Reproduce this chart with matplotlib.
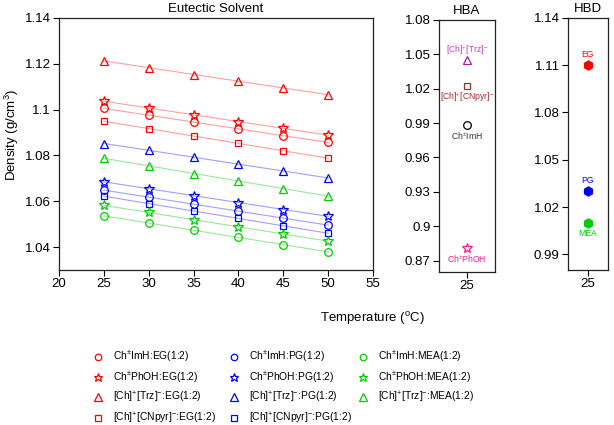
import numpy as np
import matplotlib
matplotlib.use("Agg")
import matplotlib.pyplot as plt

plt.rcParams['font.family'] = ['Liberation Sans', 'DejaVu Sans']
plt.rcParams['mathtext.fontset'] = 'custom'
plt.rcParams['mathtext.rm'] = 'Liberation Sans'
plt.rcParams['mathtext.it'] = 'Liberation Sans'
plt.rcParams['mathtext.default'] = 'regular'

# ---------------- data ----------------
temps = [25, 30, 35, 40, 45, 50]

imh_eg = [1.1006, 1.0975, 1.0945, 1.0916, 1.0886, 1.0857]
phoh_eg = [1.1038, 1.1006, 1.0977, 1.0948, 1.0918, 1.0889]
trz_eg = [1.1213, 1.1183, 1.1153, 1.1124, 1.1095, 1.1065]
cnpyr_eg = [1.0949, 1.0917, 1.0885, 1.0853, 1.0820, 1.0788]

imh_pg = [1.0648, 1.0619, 1.0587, 1.0557, 1.0526, 1.0496]
phoh_pg = [1.0685, 1.0655, 1.0625, 1.0593, 1.0564, 1.0535]
trz_pg = [1.0852, 1.0823, 1.0792, 1.0762, 1.0733, 1.0701]
cnpyr_pg = [1.0622, 1.0590, 1.0558, 1.0525, 1.0493, 1.0460]

imh_mea = [1.0536, 1.0506, 1.0473, 1.0442, 1.0410, 1.0380]
phoh_mea = [1.0583, 1.0551, 1.0519, 1.0488, 1.0458, 1.0426]
trz_mea = [1.0789, 1.0754, 1.0721, 1.0687, 1.0655, 1.0624]

series_labels = [
    "Ch$^{\\pm}$ImH:EG(1:2)", "Ch$^{\\pm}$PhOH:EG(1:2)",
    "[Ch]$^{+}$[Trz]$^{-}$:EG(1:2)", "[Ch]$^{+}$[CNpyr]$^{-}$:EG(1:2)",
    "Ch$^{\\pm}$ImH:PG(1:2)", "Ch$^{\\pm}$PhOH:PG(1:2)",
    "[Ch]$^{+}$[Trz]$^{-}$:PG(1:2)", "[Ch]$^{+}$[CNpyr]$^{-}$:PG(1:2)",
    "Ch$^{\\pm}$ImH:MEA(1:2)", "Ch$^{\\pm}$PhOH:MEA(1:2)",
    "[Ch]$^{+}$[Trz]$^{-}$:MEA(1:2)",
]
series_values = [imh_eg, phoh_eg, trz_eg, cnpyr_eg,
                 imh_pg, phoh_pg, trz_pg, cnpyr_pg,
                 imh_mea, phoh_mea, trz_mea]

# HBA panel (25 C)
hba_names = ["[Ch]$^{+}$[Trz]$^{-}$", "[Ch]$^{+}$[CNpyr]$^{-}$", "Ch$^{\\pm}$ImH", "Ch$^{\\pm}$PhOH"]
hba_values = [1.045, 1.022, 0.988, 0.881]

# HBD panel (25 C)
hbd_names = ["EG", "PG", "MEA"]
hbd_values = [1.110, 1.030, 1.010]

# ---------------- styles ----------------
mk_colors = ['red'] * 4 + ['blue'] * 4 + ['#00cc00'] * 3
ln_colors = ['#ffa0a0'] * 4 + ['#a0a0ff'] * 4 + ['#98e898'] * 3
markers = ['o', '*', '^', 's'] * 2 + ['o', '*', '^']
msizes = {'o': 5.5, '*': 7.5, '^': 6, 's': 5}

fig = plt.figure(figsize=(6.14, 4.25), dpi=100)
W, H = 614.0, 425.0

def ax_at(l, t, r, b):
    return fig.add_axes([l / W, 1 - b / H, (r - l) / W, (b - t) / H])

ax = ax_at(59, 18, 373, 270)
ax_a = ax_at(439, 20, 495, 272)
ax_d = ax_at(568, 18, 608, 270)

tfs = 9.5
t = np.array(temps, dtype=float)
handles = []
for vals, lab, mc, lc, m in zip(series_values, series_labels, mk_colors, ln_colors, markers):
    v = np.array(vals)
    p = np.polyfit(t, v, 1)
    ax.plot(t, np.polyval(p, t), color=lc, lw=0.8, zorder=1)
    h, = ax.plot(t, v, linestyle='none', marker=m, ms=msizes[m], mfc='none',
                 mec=mc, mew=0.9, label=lab, zorder=2)
    handles.append(h)

ax.set_xlim(20, 55)
ax.set_ylim(1.03, 1.14)
ax.set_xticks(np.arange(20, 56, 5))
ax.set_yticks([1.04, 1.06, 1.08, 1.10, 1.12, 1.14])
ax.set_yticklabels(["1.04", "1.06", "1.08", "1.1", "1.12", "1.14"])
ax.set_title("Eutectic Solvent", fontsize=tfs, pad=4)

# HBA panel
hba_markers = ['^', 's', 'o', '*']
hba_mcolors = ['#a0209f', '#a52a2a', 'black', '#ff1493']
hba_tcolors = ['#c040c0', '#a52a2a', '#333333', '#ff1493']
hba_offsets = [(0, 7), (0, -8), (0, -8), (0, -8)]
for name, val, m, mc, tc, off in zip(hba_names, hba_values, hba_markers, hba_mcolors, hba_tcolors, hba_offsets):
    ax_a.plot([25], [val], linestyle='none', marker=m, ms=msizes[m], mfc='none', mec=mc, mew=0.9)
    ax_a.annotate(name, (25, val), xytext=off, textcoords='offset points',
                  ha='center', va='center', fontsize=6.2, color=tc)
ax_a.set_xlim(23.6, 26.4)
ax_a.set_ylim(0.86, 1.08)
ax_a.set_xticks([25])
ax_a.set_yticks([0.87, 0.90, 0.93, 0.96, 0.99, 1.02, 1.05, 1.08])
ax_a.set_yticklabels(["0.87", "0.9", "0.93", "0.96", "0.99", "1.02", "1.05", "1.08"])
ax_a.set_title("HBA", fontsize=tfs, pad=4)

# HBD panel
hbd_colors = ['red', 'blue', '#00cc00']
hbd_offsets = [(0, 8), (0, 8), (0, -8)]
for name, val, c, off in zip(hbd_names, hbd_values, hbd_colors, hbd_offsets):
    ax_d.plot([25], [val], linestyle='none', marker='h', ms=6.5, color=c)
    ax_d.annotate(name, (25, val), xytext=off, textcoords='offset points',
                  ha='center', va='center', fontsize=6.2, color=c)
ax_d.set_xlim(24, 26)
ax_d.set_ylim(0.98, 1.14)
ax_d.set_xticks([25])
ax_d.set_yticks([0.99, 1.02, 1.05, 1.08, 1.11, 1.14])
ax_d.set_yticklabels(["0.99", "1.02", "1.05", "1.08", "1.11", "1.14"])
ax_d.set_title("HBD", fontsize=tfs, pad=4)

for a in (ax, ax_a, ax_d):
    a.tick_params(direction='out', length=4, width=0.8, labelsize=tfs, pad=2, colors='black')
    for s in a.spines.values():
        s.set_linewidth(0.9)
        s.set_color('#222222')

fig.text(12 / W, 1 - 135 / H, "Density (g/cm$^{3}$)", rotation=90, ha='center', va='center', fontsize=tfs)
fig.text(372 / W, 1 - 318 / H, "Temperature ($^{o}$C)", ha='center', va='center', fontsize=tfs)

# legend: three columns placed individually
col_groups = [handles[0:4], handles[4:8], handles[8:11]]
col_left = [93, 229, 358]
for grp, xl in zip(col_groups, col_left):
    fig.legend(handles=grp, loc='upper left', bbox_to_anchor=(xl / W, 1 - 349 / H),
               frameon=False, fontsize=7.4, handlelength=1.0, handletextpad=0.95,
               labelspacing=0.52, borderaxespad=0, borderpad=0, markerscale=0.85)

fig.savefig("out.png", dpi=100)
